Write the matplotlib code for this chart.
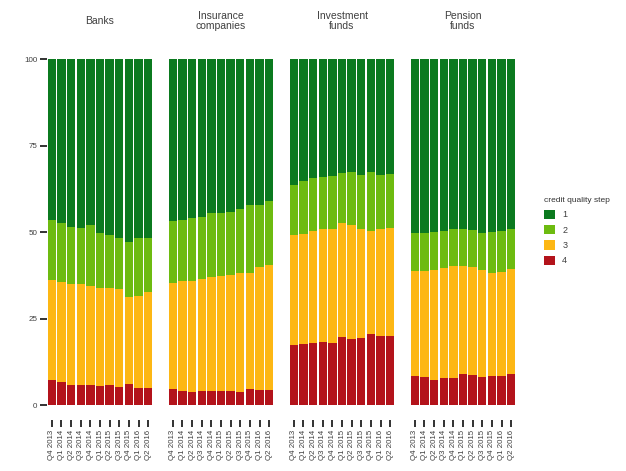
import matplotlib
matplotlib.use("Agg")
import matplotlib.pyplot as plt
from matplotlib.patches import Patch
import numpy as np

plt.rcParams['font.family'] = ['Liberation Sans', 'DejaVu Sans']

sectors = ["Banks", "Insurance\ncompanies", "Investment\nfunds", "Pension\nfunds"]
quarters = ["Q4 2013", "Q1 2014", "Q2 2014", "Q3 2014", "Q4 2014", "Q1 2015",
            "Q2 2015", "Q3 2015", "Q4 2015", "Q1 2016", "Q2 2016"]
steps = ["1", "2", "3", "4"]
colors = ["#0b7a1f", "#6dbb10", "#fdb714", "#b3131b"]

# cumulative tops: step 4, step 3 (+4), step 2 (+3+4)
banks_top4 = [7.2, 6.6, 5.8, 5.9, 5.9, 5.5, 5.8, 5.3, 6.0, 5.0, 5.0]
banks_top3 = [36.1, 35.6, 35.0, 35.0, 34.5, 33.9, 33.9, 33.4, 31.3, 31.5, 32.6]
banks_top2 = [53.5, 52.5, 51.5, 51.3, 52.0, 49.6, 49.1, 48.4, 47.2, 48.2, 48.2]

ins_top4 = [4.7, 4.1, 3.9, 4.1, 4.1, 4.1, 4.1, 3.9, 4.5, 4.3, 4.3]
ins_top3 = [35.4, 35.7, 35.9, 36.4, 36.9, 37.3, 37.6, 38.1, 38.2, 39.8, 40.6]
ins_top2 = [53.2, 53.5, 54.0, 54.4, 55.4, 55.6, 55.9, 56.6, 57.8, 57.8, 59.1]

inv_top4 = [17.3, 17.5, 17.8, 18.3, 18.0, 19.7, 19.0, 19.5, 20.5, 19.9, 19.9]
inv_top3 = [49.1, 49.4, 50.4, 51.0, 51.0, 52.5, 52.0, 51.0, 50.3, 50.8, 51.3]
inv_top2 = [63.6, 64.8, 65.5, 65.8, 66.2, 67.0, 67.2, 66.5, 67.2, 66.5, 66.8]

pen_top4 = [8.4, 8.2, 7.2, 7.7, 7.9, 8.9, 8.7, 8.0, 8.4, 8.5, 8.9]
pen_top3 = [38.7, 38.8, 39.0, 39.5, 40.2, 40.2, 39.8, 39.0, 38.1, 38.5, 39.2]
pen_top2 = [49.8, 49.8, 50.1, 50.3, 51.0, 50.9, 50.6, 49.8, 50.1, 50.4, 50.8]

panels = [
    (banks_top4, banks_top3, banks_top2),
    (ins_top4, ins_top3, ins_top2),
    (inv_top4, inv_top3, inv_top2),
    (pen_top4, pen_top3, pen_top2),
]

W, H = 626, 471
fig = plt.figure(figsize=(W / 100, H / 100), dpi=100)

lefts = [47, 168, 289, 410]
pw = 106
top_px, bot_px = 59, 405
txt_col = "#3f3f3f"

for i, (t4, t3, t2) in enumerate(panels):
    ax = fig.add_axes([lefts[i] / W, 1 - bot_px / H, pw / W, (bot_px - top_px) / H])
    x = np.arange(len(quarters))
    t4 = np.array(t4); t3 = np.array(t3); t2 = np.array(t2)
    s4 = t4
    s3 = t3 - t4
    s2 = t2 - t3
    s1 = 100 - t2
    segs = [s4, s3, s2, s1]
    segcols = [colors[3], colors[2], colors[1], colors[0]]
    bottom = np.zeros(len(x))
    for s, c in zip(segs, segcols):
        ax.bar(x, s, bottom=bottom, width=0.86, color=c, linewidth=0)
        bottom = bottom + s
    ax.set_xlim(-0.5, len(x) - 0.5)
    ax.set_ylim(0, 100)
    for sp in ax.spines.values():
        sp.set_visible(False)
    ax.spines['bottom'].set_position(('outward', 11))
    ax.set_xticks(x)
    ax.set_xticklabels(quarters, rotation=90, fontsize=5.7, color=txt_col)
    ax.tick_params(axis='x', length=5, width=1.3, color="#222222", pad=2)
    if i == 0:
        ax.set_yticks([0, 25, 50, 75, 100])
        ax.set_yticklabels(["0", "25", "50", "75", "100"], fontsize=5.8, color=txt_col)
        ax.tick_params(axis='y', length=5, width=1.3, color="#222222", pad=2)
    else:
        ax.set_yticks([])
    ax.set_facecolor("white")
    ax.text(0.5, 1.0 + 38 / (bot_px - top_px), sectors[i], transform=ax.transAxes,
            ha='center', va='center', fontsize=7.5, color=txt_col, linespacing=1.05)

handles = [Patch(facecolor=c, edgecolor='none') for c in colors]
leg = fig.legend(handles, steps, title="credit quality step",
                 loc='upper left', bbox_to_anchor=(537 / W, 1 - 190 / H),
                 frameon=False, fontsize=6.5, title_fontsize=6.0,
                 handlelength=1.2, handleheight=1.2, handletextpad=0.8,
                 labelspacing=0.62, alignment='left', borderpad=0.3)
for t in leg.get_texts():
    t.set_color(txt_col)
leg.get_title().set_color("#333333")

fig.savefig("out.png", dpi=100, facecolor="white")
